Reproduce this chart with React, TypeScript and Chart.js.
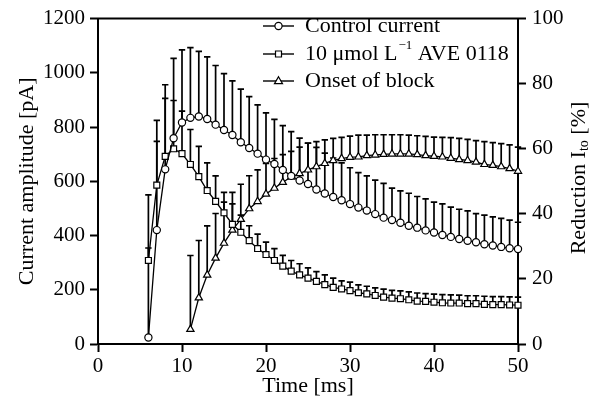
import React, { useEffect, useRef } from "react";
import { Chart, registerables } from "chart.js";
Chart.register(...registerables);

const times = [6, 7, 8, 9, 10, 11, 12, 13, 14, 15, 16, 17, 18, 19, 20, 21, 22, 23, 24, 25, 26, 27, 28, 29, 30, 31, 32, 33, 34, 35, 36, 37, 38, 39, 40, 41, 42, 43, 44, 45, 46, 47, 48, 49, 50];
const controlMean = [24, 420, 644, 759, 817, 834, 839, 830, 809, 789, 771, 744, 723, 702, 680, 664, 642, 620, 603, 590, 570, 555, 542, 530, 516, 503, 492, 479, 466, 457, 447, 436, 429, 419, 411, 402, 395, 387, 381, 375, 368, 363, 358, 353, 350];
const controlUpper = [550, 825, 956, 1053, 1085, 1093, 1079, 1059, 1027, 997, 970, 940, 912, 882, 852, 828, 805, 783, 759, 741, 725, 704, 686, 668, 650, 632, 620, 604, 592, 575, 565, 556, 544, 535, 523, 517, 505, 497, 491, 481, 475, 469, 463, 457, 449];
const aveMean = [308, 586, 692, 720, 702, 662, 617, 566, 526, 484, 441, 412, 381, 352, 330, 308, 287, 269, 255, 243, 231, 219, 209, 203, 197, 189, 185, 179, 173, 169, 167, 163, 158, 157, 154, 152, 151, 151, 149, 149, 146, 145, 145, 144, 143];
const aveUpper = [354, 747, 906, 898, 859, 791, 729, 668, 620, 559, 517, 475, 436, 405, 376, 352, 327, 308, 296, 281, 267, 255, 243, 233, 228, 218, 213, 207, 202, 198, 196, 192, 188, 186, 184, 182, 181, 180, 178, 178, 176, 175, 175, 174, 173];
const blockTimes = [11, 12, 13, 14, 15, 16, 17, 18, 19, 20, 21, 22, 23, 24, 25, 26, 27, 28, 29, 30, 31, 32, 33, 34, 35, 36, 37, 38, 39, 40, 41, 42, 43, 44, 45, 46, 47, 48, 49, 50];
const blockMean = [4.5, 14.2, 21.2, 26.4, 31.0, 35.0, 38.3, 41.6, 43.8, 46.1, 47.9, 49.7, 51.3, 52.4, 53.5, 54.5, 55.5, 56.4, 57.0, 57.4, 57.5, 57.9, 58.1, 58.3, 58.4, 58.4, 58.4, 58.2, 57.9, 57.7, 57.5, 57.1, 56.7, 56.4, 55.9, 55.2, 54.9, 54.5, 53.9, 53.1];
const blockUpper = [27.2, 31.8, 36.3, 40.1, 43.6, 46.6, 49.1, 51.7, 53.5, 55.5, 57.0, 58.2, 59.2, 60.5, 61.7, 62.2, 62.7, 63.2, 63.5, 63.9, 64.2, 64.2, 64.3, 64.3, 64.3, 64.3, 64.2, 64.0, 63.8, 63.6, 63.5, 63.4, 63.2, 62.9, 62.5, 62.2, 61.9, 61.6, 61.2, 60.5];

const seriesLabels = ["Control current", "10 μmol L", "Onset of block"];
const xTitle = "Time [ms]";
const yTitle = "Current amplitude [pA]";
const y2Title = "Reduction I";

const FONT = "'Liberation Serif', 'Times New Roman', serif";
const upperSets = [controlUpper, aveUpper, blockUpper];

function drawMarker(ctx: CanvasRenderingContext2D, style: string, x: number, y: number) {
  ctx.beginPath();
  if (style === "circle") {
    ctx.arc(x, y, 3.6, 0, Math.PI * 2);
  } else if (style === "rect") {
    ctx.rect(x - 3, y - 3, 6, 6);
  } else {
    ctx.moveTo(x, y - 4.2);
    ctx.lineTo(x + 4, y + 2.6);
    ctx.lineTo(x - 4, y + 2.6);
    ctx.closePath();
  }
  ctx.fillStyle = "#fff";
  ctx.fill();
  ctx.lineWidth = 1.2;
  ctx.strokeStyle = "#000";
  ctx.stroke();
}

const errorBarPlugin = {
  id: "errorBars",
  beforeDatasetsDraw(chart: any) {
    const ctx = chart.ctx;
    ctx.save();
    ctx.strokeStyle = "#000";
    ctx.lineWidth = 1.7;
    chart.data.datasets.forEach((_ds: any, i: number) => {
      const meta = chart.getDatasetMeta(i);
      const yScale = chart.scales[meta.yAxisID];
      const up = upperSets[i];
      meta.data.forEach((pt: any, j: number) => {
        const yTop = yScale.getPixelForValue(up[j]);
        ctx.beginPath();
        ctx.moveTo(pt.x, pt.y);
        ctx.lineTo(pt.x, yTop);
        ctx.moveTo(pt.x - 3.2, yTop);
        ctx.lineTo(pt.x + 3.2, yTop);
        ctx.stroke();
      });
    });
    ctx.restore();
  },
};

const decorPlugin = {
  id: "decor",
  afterDraw(chart: any) {
    const ctx = chart.ctx as CanvasRenderingContext2D;
    const a = chart.chartArea;
    ctx.save();
    ctx.strokeStyle = "#000";
    ctx.lineWidth = 2;
    ctx.beginPath();
    ctx.moveTo(a.left - 1, a.top);
    ctx.lineTo(a.right + 1, a.top);
    ctx.stroke();

    ctx.fillStyle = "#000";
    ctx.font = `22px ${FONT}`;
    ctx.textAlign = "center";
    ctx.textBaseline = "middle";
    ctx.fillText(xTitle, (a.left + a.right) / 2, 386);

    ctx.save();
    ctx.translate(27, (a.top + a.bottom) / 2);
    ctx.rotate(-Math.PI / 2);
    ctx.fillText(yTitle, 0, 0);
    ctx.restore();

    ctx.save();
    ctx.translate(579, 178);
    ctx.rotate(-Math.PI / 2);
    ctx.textAlign = "left";
    const mainFont = `22px ${FONT}`;
    const subFont = `14px ${FONT}`;
    ctx.font = mainFont;
    const w1 = ctx.measureText(y2Title).width;
    const w3 = ctx.measureText(" [%]").width;
    ctx.font = subFont;
    const w2 = ctx.measureText("to").width;
    const total = w1 + w2 + w3;
    let x = -total / 2;
    ctx.font = mainFont;
    ctx.fillText(y2Title, x, 0);
    x += w1;
    ctx.font = subFont;
    ctx.fillText("to", x, 5);
    x += w2;
    ctx.font = mainFont;
    ctx.fillText(" [%]", x, 0);
    ctx.restore();

    const rows = [26, 54, 81];
    const styles = ["circle", "rect", "triangle"];
    for (let i = 0; i < 3; i++) {
      const y = rows[i];
      ctx.strokeStyle = "#000";
      ctx.lineWidth = 1.4;
      ctx.beginPath();
      ctx.moveTo(263, y);
      ctx.lineTo(294, y);
      ctx.stroke();
      drawMarker(ctx, styles[i], 278.5, y);
      ctx.fillStyle = "#000";
      ctx.font = `22px ${FONT}`;
      ctx.textAlign = "left";
      ctx.textBaseline = "middle";
      let tx = 305;
      ctx.fillText(seriesLabels[i], tx, y);
      if (i === 1) {
        tx += ctx.measureText(seriesLabels[i]).width;
        ctx.font = `13px ${FONT}`;
        ctx.fillText("−1", tx + 1, y - 8);
        tx += ctx.measureText("−1").width + 1;
        ctx.font = `22px ${FONT}`;
        ctx.fillText(" AVE 0118", tx, y);
      }
    }
    ctx.restore();
  },
};

export default function App() {
  const ref = useRef<HTMLCanvasElement>(null);
  useEffect(() => {
    document.body.style.margin = "0";
    const canvas = ref.current!;
    const tickFont = { family: FONT, size: 21 };
    const plain = (v: any) => String(v);
    const grid = {
      drawOnChartArea: false,
      drawTicks: true,
      tickLength: 8,
      tickWidth: 2,
      tickColor: "#000",
    };
    const border = { display: true, color: "#000", width: 2 };
    const mk = (xs: number[], ys: number[]) => xs.map((x, i) => ({ x, y: ys[i] }));
    const common = {
      borderColor: "#000",
      borderWidth: 1.3,
      pointBackgroundColor: "#fff",
      pointBorderColor: "#000",
      pointBorderWidth: 1.2,
      tension: 0,
      fill: false,
      clip: false as any,
    };
    const chart = new Chart(canvas, {
      type: "line",
      data: {
        datasets: [
          { ...common, label: seriesLabels[0], data: mk(times, controlMean), yAxisID: "y", pointStyle: "circle", pointRadius: 3.6 },
          { ...common, label: seriesLabels[1], data: mk(times, aveMean), yAxisID: "y", pointStyle: "rect", pointRadius: 4.2 },
          { ...common, label: seriesLabels[2], data: mk(blockTimes, blockMean), yAxisID: "y2", pointStyle: "triangle", pointRadius: 4.2 },
        ],
      },
      options: {
        animation: false,
        responsive: false,
        layout: { padding: { top: 13, left: 0, right: 0, bottom: 0 } },
        plugins: { legend: { display: false }, tooltip: { enabled: false } },
        scales: {
          x: {
            type: "linear",
            min: 0,
            max: 50,
            ticks: { stepSize: 10, font: tickFont, color: "#000", padding: 2, maxRotation: 0, callback: plain },
            grid,
            border,
            afterFit: (s: any) => { s.height = 60; },
          },
          y: {
            type: "linear",
            position: "left",
            min: 0,
            max: 1200,
            ticks: { stepSize: 200, font: tickFont, color: "#000", padding: 5, callback: plain },
            grid,
            border,
            afterFit: (s: any) => { s.width = 98; },
          },
          y2: {
            type: "linear",
            position: "right",
            min: 0,
            max: 100,
            ticks: { stepSize: 20, font: tickFont, color: "#000", padding: 6, callback: plain },
            grid,
            border,
            afterFit: (s: any) => { s.width = 83; },
          },
        },
      } as any,
      plugins: [errorBarPlugin, decorPlugin],
    });
    return () => chart.destroy();
  }, []);
  return <canvas ref={ref} width={601} height={404} style={{ display: "block" }} />;
}
